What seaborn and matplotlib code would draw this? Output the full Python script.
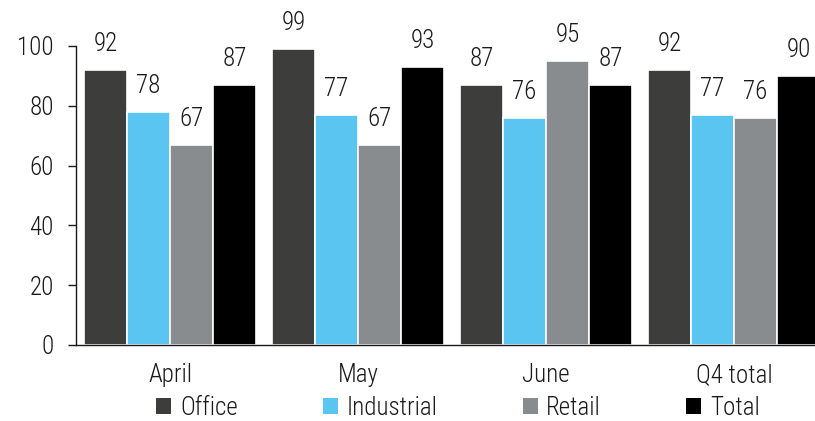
import matplotlib
matplotlib.use("Agg")
import matplotlib.pyplot as plt
from matplotlib.patches import Patch
import seaborn as sns
import pandas as pd

categories = ["April", "May", "June", "Q4 total"]
series = ["Office", "Industrial", "Retail", "Total"]
office = [92, 99, 87, 92]
industrial = [78, 77, 76, 77]
retail = [67, 67, 95, 76]
total = [87, 93, 87, 90]
colors = ["#3d3d3b", "#5bc5f2", "#898c8e", "#000000"]
yticks = [0, 20, 40, 60, 80, 100]

rows = []
for s, vals in zip(series, [office, industrial, retail, total]):
    for c, v in zip(categories, vals):
        rows.append({"cat": c, "series": s, "value": v})
df = pd.DataFrame(rows)

sns.set_theme(style="white")
plt.rcParams["font.family"] = ["Roboto Condensed", "Fira Sans Condensed", "Barlow Condensed", "DejaVu Sans"]
plt.rcParams["font.weight"] = "light"
fs = 18

fig = plt.figure(figsize=(8.15, 4.21), dpi=100)
ax = fig.add_axes([76/815, 76/421, 752/815, 299/421])
sns.barplot(data=df, x="cat", y="value", hue="series", order=categories,
            hue_order=series, palette=colors, width=0.915, edgecolor="white",
            linewidth=1.2, ax=ax, legend=False, saturation=1)
for cont in ax.containers:
    ax.bar_label(cont, padding=10, fontsize=fs, color="#1a1a1a")
ax.set_ylim(0, 100)
ax.set_xlim(-0.5, 3.5)
ax.set_yticks(yticks)
ax.set_xlabel("")
ax.set_ylabel("")
for sp in ["top", "right"]:
    ax.spines[sp].set_visible(False)
for sp in ["left", "bottom"]:
    ax.spines[sp].set_color("#1a1a1a")
    ax.spines[sp].set_linewidth(1.0)
ax.tick_params(axis="y", left=True, length=6, width=1, color="#1a1a1a",
               labelsize=fs, pad=10, labelcolor="#1a1a1a")
ax.tick_params(axis="x", bottom=False, labelsize=fs, pad=7, labelcolor="#1a1a1a")
for t in ax.texts:
    t.set_clip_on(False)

handles = [Patch(facecolor=c, edgecolor="none", label=s) for c, s in zip(colors, series)]
fig.legend(handles=handles, loc="center", bbox_to_anchor=(458/815, 1 - 408/421),
           ncol=4, frameon=False, fontsize=fs, handlelength=0.6, handleheight=0.6,
           handletextpad=0.35, columnspacing=3.4, labelcolor="#1a1a1a",
           borderpad=0.2)

fig.savefig("out.png", dpi=100)
